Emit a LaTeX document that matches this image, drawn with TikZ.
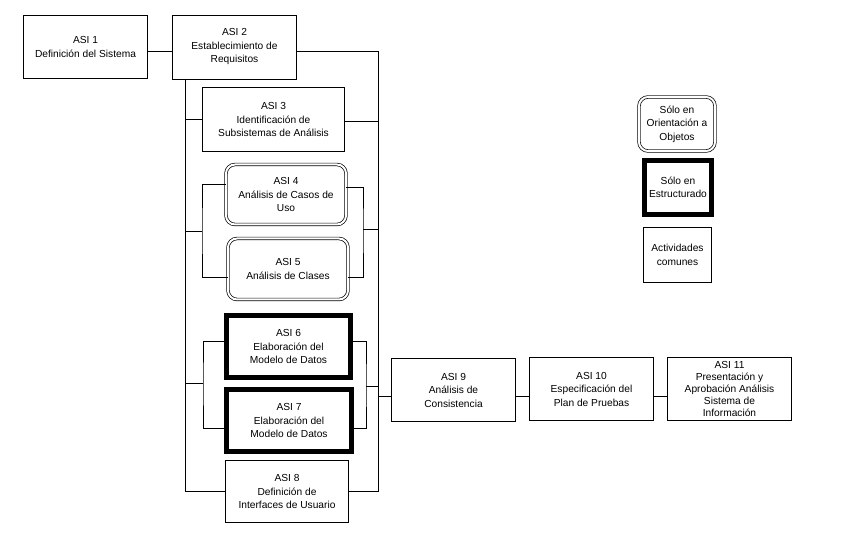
\documentclass[tikz,border=0pt]{standalone}
\usepackage{fontspec}
\setmainfont{Liberation Sans}
\tikzset{
  base/.style={align=center, font=\fontsize{10.2}{13.5}\selectfont, inner sep=1pt},
  plainbox/.style={base, draw, line width=0.8pt},
  oobox/.style={base, draw, line width=0.7pt, double, double distance=2pt, rounded corners=9pt},
  estbox/.style={base, draw, line width=4.5pt},
  conn/.style={line width=0.8pt}
}
\begin{document}
\begin{tikzpicture}[x=1pt,y=-1pt]
\useasboundingbox (0,0) rectangle (848,534);
% nodes
\node[plainbox, minimum width=124pt, minimum height=63pt] (a1) at (85.5,47) {ASI 1\\Definición del Sistema};
\node[plainbox, minimum width=124pt, minimum height=64pt] (a2) at (234.5,47) {ASI 2\\Establecimiento de\\Requisitos};
\node[plainbox, minimum width=142pt, minimum height=64pt] (a3) at (273.5,119.5) {ASI 3\\Identificación de\\Subsistemas de Análisis};
\node[oobox, minimum width=120pt, minimum height=60pt] (a4) at (286,194.5) {ASI 4\\Análisis de Casos de\\Uso};
\node[oobox, minimum width=120pt, minimum height=61pt] (a5) at (288,269) {\\[-6pt]ASI 5\\Análisis de Clases};
\node[estbox, minimum width=124pt, minimum height=62pt] (a6) at (288.5,346.5) {ASI 6\\Elaboración del\\Modelo de Datos};
\node[estbox, minimum width=125pt, minimum height=62pt] (a7) at (289,420.5) {ASI 7\\Elaboración del\\Modelo de Datos};
\node[plainbox, minimum width=123pt, minimum height=62pt] (a8) at (287,491.5) {ASI 8\\Definición de\\Interfaces de Usuario};
\node[plainbox, minimum width=124pt, minimum height=63pt] (a9) at (453.5,390) {ASI 9\\Análisis de\\Consistencia};
\node[plainbox, minimum width=124pt, minimum height=63pt] (a10) at (591.5,389) {ASI 10\\Especificación del\\Plan de Pruebas};
\node[plainbox, minimum width=124pt, minimum height=63pt, inner sep=0pt, font=\fontsize{10.2}{12.2}\selectfont] (a11) at (729.5,389) {ASI 11\\Presentación y\\Aprobación Análisis\\Sistema de\\Información};
% legend
\node[oobox, minimum width=76pt, minimum height=54pt] (l1) at (677,124) {Sólo en\\Orientación a\\Objetos};
\node[estbox, minimum width=67pt, minimum height=54pt] (l2) at (678,187.5) {Sólo en\\Estructurado};
\node[plainbox, minimum width=68pt, minimum height=55pt] (l3) at (677.5,255) {Actividades\\comunes};
% coordinates
\coordinate (LB) at (185,491.5);
\coordinate (RB) at (378,491.5);
\coordinate (b1l) at (202,231);
\coordinate (b1r) at (363,229);
\coordinate (b2l) at (203,383);
\coordinate (b2r) at (366,386);
% connectors
\draw[conn] ([yshift=-4pt]a1.east) -- ([yshift=-4pt]a2.west);
\draw[conn] ([yshift=-4pt]a2.east) -| (RB) -- (a8.east);
\draw[conn] (a2.south -| LB) -- (LB) -- (a8.west);
\draw[conn] (a3.west) -- (a3.west -| LB);
\draw[conn] ([yshift=-2pt]a3.east) -- ([yshift=-2pt]a3.east -| RB);
\draw[conn] ([yshift=10pt]a4.west) -| (b1l) |- ([yshift=-8pt]a5.west);
\draw[conn] (b1l) -- (b1l -| LB);
\draw[conn] ([yshift=7.5pt]a4.east) -| (b1r) |- ([yshift=-8pt]a5.east);
\draw[conn] (b1r) -- (b1r -| RB);
\draw[conn] ([yshift=5.5pt]a6.west) -| (b2l) |- ([yshift=-7.5pt]a7.west);
\draw[conn] (b2l) -- (b2l -| LB);
\draw[conn] ([yshift=5.5pt]a6.east) -| (b2r) |- ([yshift=-7.5pt]a7.east);
\draw[conn] (b2r) -- (b2r -| RB);
\draw[conn] ([yshift=-6pt]a9.west) -- ([yshift=-6pt]a9.west -| RB);
\draw[conn] ([yshift=-6pt]a9.east) -- ([yshift=-6pt]a9.east -| a10.west);
\draw[conn] ([yshift=-7pt]a10.east) -- ([yshift=-7pt]a10.east -| a11.west);
\end{tikzpicture}
\end{document}
